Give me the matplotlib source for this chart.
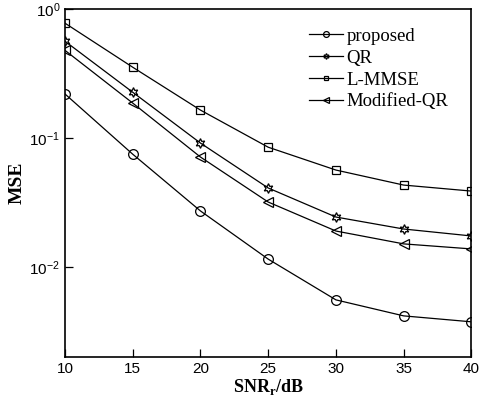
import math
import matplotlib
matplotlib.use('Agg')
import matplotlib.pyplot as plt
from matplotlib.ticker import FixedLocator, FuncFormatter, NullLocator

snr = [10, 15, 20, 25, 30, 35, 40]
proposed = [0.22, 0.075, 0.0272, 0.0115, 0.00555, 0.00417, 0.00375]
qr = [0.565, 0.227, 0.0915, 0.041, 0.0244, 0.0197, 0.0174]
lmmse = [0.78, 0.355, 0.165, 0.085, 0.0565, 0.0432, 0.0388]
modified_qr = [0.48, 0.187, 0.0713, 0.0319, 0.019, 0.0151, 0.0138]

serif = 'Liberation Serif'
sans = 'Liberation Sans'

fig = plt.figure(figsize=(4.83, 3.99), dpi=100)
ax = fig.add_axes([0.1346, 0.1053, 0.8414, 0.8714])

style = dict(color='black', lw=0.9, markersize=7, markerfacecolor='none',
             markeredgecolor='black', markeredgewidth=0.9)
ax.plot(snr, proposed, marker='o', label='proposed', **style)
ax.plot(snr, qr, marker=(6, 1, 0), label='QR', **style)
ax.plot(snr, lmmse, marker='s', label='L-MMSE', **dict(style, markersize=6))
ax.plot(snr, modified_qr, marker='<', label='Modified-QR', **style)

ax.set_yscale('log')
ax.set_xlim(10, 40)
ax.set_ylim(2e-3, 1)
ax.set_xticks(snr)
ax.yaxis.set_major_locator(FixedLocator([1e-2, 1e-1, 1]))
ax.yaxis.set_minor_locator(NullLocator())
ax.yaxis.set_major_formatter(FuncFormatter(
    lambda v, p: r'$\mathregular{10^{%d}}$' % round(math.log10(v))))
ax.tick_params(direction='in', length=6, width=0.9, labelsize=11)
for lbl in ax.get_xticklabels() + ax.get_yticklabels():
    lbl.set_fontfamily(sans)
for s in ax.spines.values():
    s.set_linewidth(1.2)

ax.set_xlabel(r'SNR$_\mathregular{r}$/dB', fontfamily=serif, fontweight='bold',
              fontsize=13, labelpad=1)
ax.set_ylabel('MSE', fontfamily=serif, fontweight='bold', fontsize=14, labelpad=3)

ax.legend(loc='upper right', bbox_to_anchor=(0.985, 0.995), frameon=False,
          prop={'family': serif, 'size': 13.5}, markerscale=0.6,
          handlelength=1.8, handletextpad=0.2, labelspacing=0.25)

fig.savefig('out.png', dpi=100)
